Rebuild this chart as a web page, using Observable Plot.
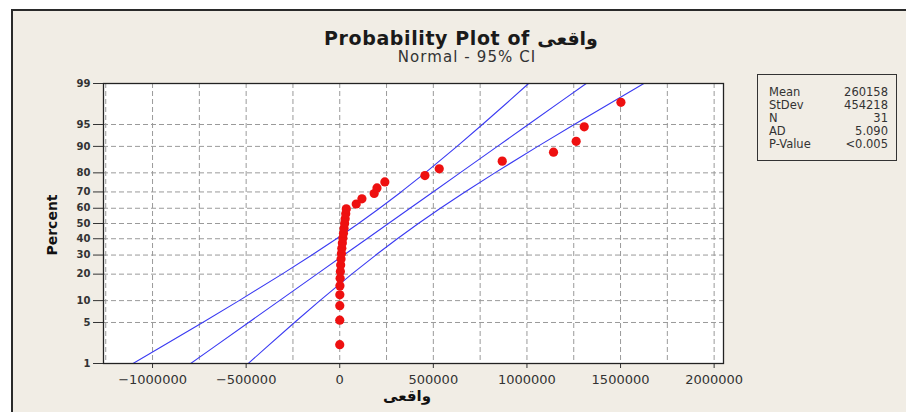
<!DOCTYPE html>
<html><head><meta charset="utf-8">
<script src="https://cdn.jsdelivr.net/npm/d3@7"></script>
<script src="https://cdn.jsdelivr.net/npm/@observablehq/plot@0.6"></script>
<style>
html,body{margin:0;padding:0;background:#fff;}
#wrap{position:relative;width:906px;height:412px;overflow:hidden;font-family:"DejaVu Sans",sans-serif;color:#222;}
#panel{position:absolute;left:11px;top:9px;width:895px;height:403px;border-top:2px solid #2a2a2a;border-left:2px solid #2a2a2a;background:#f1ede5;box-sizing:border-box;}
#chart{position:absolute;left:0;top:0;}
.t{position:absolute;white-space:nowrap;}
#title{left:461px;top:29px;transform:translateX(-50%);font-weight:bold;font-size:19px;line-height:19px;letter-spacing:0.6px;color:#1a1a1a;}
#subtitle{left:467px;top:49px;transform:translateX(-50%);font-size:15px;line-height:16px;color:#333;letter-spacing:1.1px;}
#ylab{left:52px;top:225px;transform:translate(-50%,-50%) rotate(-90deg);font-weight:bold;font-size:14px;line-height:16px;color:#111;}
#xlab{left:407px;top:396px;transform:translate(-50%,-50%);font-weight:bold;font-size:15px;line-height:18px;color:#111;}
#stats{position:absolute;left:757px;top:74px;width:140px;height:87px;border:1px solid #333;box-sizing:border-box;padding:11px 8px 0 11px;font-size:11.5px;color:#333;}
#stats table{border-collapse:collapse;width:100%;}
#stats td{padding:0;height:13px;line-height:13px;}
#stats td.v{text-align:right;}
</style>
</head><body>
<div id="wrap">
  <div id="panel"></div>
  <div id="chart"></div>
  <div class="t" id="title">Probability Plot of واقعی</div>
  <div class="t" id="subtitle">Normal - 95% CI</div>
  <div class="t" id="ylab">Percent</div>
  <div class="t" id="xlab">واقعی</div>
  <div id="stats"></div>
</div>
<script>
// ---- data ----
const pointPct = [2.2, 5.4, 8.6, 11.8, 15.0, 18.2, 21.3, 24.5, 27.7, 30.9, 34.1, 37.3, 40.4, 43.6, 46.8, 50.0,
  53.2, 56.4, 59.6, 62.7, 65.9, 69.1, 72.3, 75.5, 78.7, 81.8, 85.0, 88.2, 91.4, 94.6, 97.8];
const pointValue = [0, 100, 200, 500, 1000, 2000, 3500, 5000, 7000, 9000, 11000, 14000, 17000, 20000, 23000, 26000,
  29000, 32000, 35000, 88000, 118500, 184000, 199000, 241000, 455000, 531500, 868000, 1142000, 1263000, 1306000, 1502000];

const linePct   = [1, 2, 5, 10, 20, 30, 40, 50, 60, 70, 80, 90, 95, 98, 99];
const fitValue  = [-796492, -672668, -486985, -321968, -122112, 21966, 145105, 260158, 375211, 498350, 642428, 842284, 1007301, 1192984, 1316808];
const lowerValue = [-1104302, -954598, -732251, -537765, -308184, -148564, -17336, 100261, 212770, 327820, 456356, 626487, 762035, 911054, 1008998];
const upperValue = [-488682, -390738, -241719, -106171, 63960, 192496, 307546, 420055, 537652, 668880, 828500, 1058081, 1252567, 1474914, 1624618];

const yTickPct = [1, 5, 10, 20, 30, 40, 50, 60, 70, 80, 90, 95, 99];
const xTicks = [-1000000, -500000, 0, 500000, 1000000, 1500000, 2000000];
const xGrid = [-1250000, -1000000, -750000, -500000, -250000, 0, 250000, 500000, 750000, 1000000, 1250000, 1500000, 1750000, 2000000];
const xDomain = [-1262000, 2050000];

const statLabels = ["Mean", "StDev", "N", "AD", "P-Value"];
const statValues = ["260158", "454218", "31", "5.090", "<0.005"];

// inverse standard normal CDF (probability-paper scale)
function probit(p){
  const a=[-3.969683028665376e+01,2.209460984245205e+02,-2.759285104469687e+02,1.383577518672690e+02,-3.066479806614716e+01,2.506628277459239e+00];
  const b=[-5.447609879822406e+01,1.615858368580409e+02,-1.556989798598866e+02,6.680131188771972e+01,-1.328068155288572e+01];
  const c=[-7.784894002430293e-03,-3.223964580411365e-01,-2.400758277161838e+00,-2.549732539343734e+00,4.374664141464968e+00,2.938163982698783e+00];
  const d=[7.784695709041462e-03,3.224671290700398e-01,2.445134137142996e+00,3.754408661907416e+00];
  const pl=0.02425, ph=1-pl; let q,r;
  if(p<pl){q=Math.sqrt(-2*Math.log(p));return (((((c[0]*q+c[1])*q+c[2])*q+c[3])*q+c[4])*q+c[5])/((((d[0]*q+d[1])*q+d[2])*q+d[3])*q+1);}
  if(p>ph){q=Math.sqrt(-2*Math.log(1-p));return -(((((c[0]*q+c[1])*q+c[2])*q+c[3])*q+c[4])*q+c[5])/((((d[0]*q+d[1])*q+d[2])*q+d[3])*q+1);}
  q=p-0.5;r=q*q;return (((((a[0]*r+a[1])*r+a[2])*r+a[3])*r+a[4])*r+a[5])*q/(((((b[0]*r+b[1])*r+b[2])*r+b[3])*r+b[4])*r+1);
}
const zOf = pct => probit(pct / 100);

const points = pointPct.map((p, i) => ({pct: p, v: pointValue[i]}));
const lines = [];
[["lower", lowerValue], ["fit", fitValue], ["upper", upperValue]].forEach(([k, arr]) =>
  linePct.forEach((p, i) => lines.push({band: k, pct: p, v: arr[i]})));

const zTicks = yTickPct.map(zOf);
const zLabel = new Map(zTicks.map((z, i) => [z, String(yTickPct[i])]));

const chart = Plot.plot({
  width: 906, height: 412,
  marginLeft: 103, marginRight: 183, marginTop: 83, marginBottom: 49,
  style: {background: "transparent", fontFamily: "DejaVu Sans, sans-serif", color: "#222", overflow: "visible"},
  x: {domain: xDomain},
  y: {domain: [zOf(1), zOf(99)]},
  marks: [
    Plot.frame({fill: "white", stroke: null}),
    Plot.gridX(xGrid, {stroke: "#9a9a9a", strokeOpacity: 1, strokeDasharray: "5,3"}),
    Plot.gridY(zTicks, {stroke: "#9a9a9a", strokeOpacity: 1, strokeDasharray: "5,3"}),
    Plot.line(lines, {x: "v", y: d => zOf(d.pct), z: "band", stroke: "#3a3af2", strokeWidth: 1.1, clip: true}),
    Plot.dot(points, {x: "v", y: d => zOf(d.pct), r: 4.6, fill: "#ee1010", stroke: null}),
    Plot.axisX({ticks: xTicks, tickFormat: d3.format("d"), tickSize: 5, tickPadding: 6, label: null, fontSize: 13, color: "#333"}),
    Plot.axisY({ticks: zTicks, tickFormat: z => zLabel.get(z), tickSize: 10, tickPadding: 3, label: null, fontSize: 10, fontWeight: "bold", color: "#333"}),
    Plot.frame({stroke: "#222", strokeWidth: 1.3})
  ]
});
document.getElementById("chart").appendChild(chart);

const tbl = document.createElement("table");
statLabels.forEach((l, i) => {
  const tr = document.createElement("tr");
  tr.innerHTML = `<td>${l}</td><td class="v">${statValues[i]}</td>`;
  tbl.appendChild(tr);
});
document.getElementById("stats").appendChild(tbl);
</script>
</body></html>
